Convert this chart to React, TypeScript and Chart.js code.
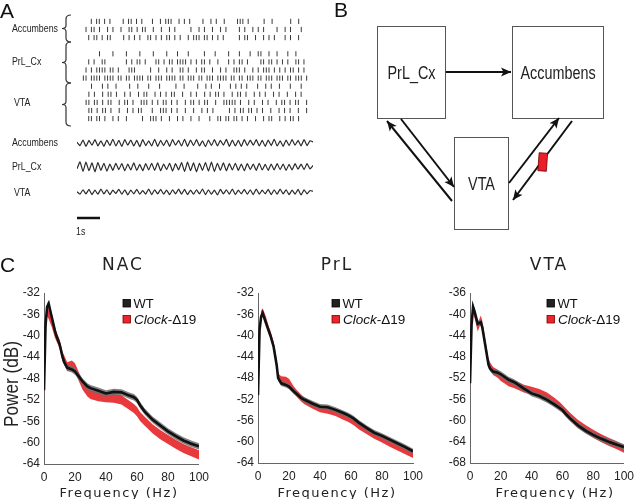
import React, { useEffect, useRef } from "react";
import { Chart, registerables } from "chart.js";
Chart.register(...registerables);

const WIDE = "'DejaVu Sans', Verdana, sans-serif";
const SANS = "'Liberation Sans', Arial, sans-serif";

// ---------- Panel A: spike raster (each '|' = a spike in a time bin) ----------
const RASTER_SECONDS = 10;
const RASTER_ROWS: string[] = [
  "...|.||.|.|....|.||.|.|...|..|.|||..|.|.|....|..|.|..|....|||.|.....|..|......|..|...",
  ".|.||.|..|.|..|..||.|.||..|..|..|.|.....|..|.|..|..|.|....|.|..|.|.|....|..|.|...|..",
  "..|.||.|.||....|.|.|.|..||.|.|.||.|.|..|.|||.||.|.|.|.....|.||..|..|.|.|...|.|..|...",
  "",
  "......|....|....|....|....|....|...|...|.....|...|....|...|...|..||..|..|...|..|....",
  "..|.|..||.......|.|.||.|...||.|.||.||||.|.|.||.|..|...|.|.||.|....||.||.|.|.|..||.|.",
  ".|.|.||||.||.|...|||.....|..|..|.|..||.|..|.||..|..|.|..|||.|..|.|.|||.|.|.|.||.|.|.",
  "||.||||.||||.||.||.||||.||.|||.||||.||.|||.||.|||.||||.||.||.|||.||.|||.|||.||.|||.|",
  "...|...|.|..|....|..|...|...|.....|..|....|..|.|..|...|.|.|.|...|..|.|..|...|...|..",
  "..|.|..|.||.|..|.|..|.||..|.|.|.||..|..|.|..|.|.||.|..|.||.|..|.|.|..|.|..|..|.|..",
  ".||.||.|.||..|.||.|..|||.|.|.||.|.|..|.||.|.||..|..|||||.|..|.|..|.|..|.||.|.||..|",
  "..||.|.||.|..|..|.|.||...|..|||.|.|..|..|..|.|.|.....|.|.||.||.|.|..|..|.|.|..|..|",
  "..||.||.|..|.|..|.....|..|||.|..|..|.|..|..|...|..||.||.||.|.|..|..|.||..|.|.||.|...",
];

// ---------- Panel A: LFP traces (alternating peaks / troughs) ----------
const LFP_ACC = [0.2,-0.7,0.8,-0.9,0.7,-0.6,0.9,-0.8,0.6,-0.9,0.8,-0.7,1.0,-0.8,0.7,-0.9,0.9,-0.6,0.8,-0.8,0.7,-1.0,0.9,-0.7,0.6,-0.8,1.0,-0.9,0.7,-0.7,0.8,-0.9,0.9,-0.6,0.7,-0.8,1.0,-0.9,0.8,-0.7,0.9,-0.8,0.6,-1.0,0.8,-0.7,0.9,-0.8,0.7,-0.6,1.0,-0.9,0.8,-0.8,0.7,-0.9,0.9,-0.7,0.8,-0.6,0.9,-0.8,0.7,-0.9,0.8,-0.7,1.0,-0.8,0.6,-0.9,0.8,-0.7,0.9,-0.6,0.7,-0.8,0.9,-0.7,0.6,0.3];
const LFP_PRL = [-0.5,1.4,-1.2,1.3,-1.0,1.1,-1.3,1.2,-0.9,1.0,-1.1,0.8,-0.9,1.0,-0.7,0.9,-1.0,0.8,-0.8,1.1,-0.9,0.7,-1.0,0.9,-0.8,1.0,-0.9,1.1,-1.0,0.8,-0.7,1.0,-1.1,0.9,-0.8,1.2,-1.2,1.3,-1.0,1.1,-1.3,1.0,-0.9,1.2,-1.1,1.3,-1.2,1.0,-0.9,1.1,-1.0,0.9,-0.8,1.0,-0.9,0.8,-1.0,0.9,-0.7,0.8,-0.9,1.0,-0.8,0.7,-0.9,0.8,-0.8,0.9,-0.7,0.8,-0.9,0.7,-0.8,0.9,-0.6,0.8,-0.7,0.9,-0.5,0.4];
const LFP_VTA = [0.1,-0.6,0.6,-0.5,0.7,-0.7,0.5,-0.6,0.8,-0.5,0.6,-0.7,0.5,-0.4,0.7,-0.6,0.6,-0.8,0.5,-0.5,0.7,-0.6,0.4,-0.6,0.8,-0.7,0.6,-0.5,0.7,-0.6,0.5,-0.7,0.6,-0.5,0.8,-0.6,0.7,-0.7,0.5,-0.6,0.6,-0.5,0.8,-0.7,0.6,-0.6,0.5,-0.8,0.7,-0.5,0.6,-0.6,0.8,-0.7,0.5,-0.5,0.7,-0.6,0.6,-0.7,0.8,-0.6,0.5,-0.5,0.7,-0.7,0.6,-0.6,0.8,-0.5,0.6,-0.7,0.5,-0.6,0.7,-0.8,0.6,-0.5,0.4,0.2];

// ---------- Panel C: power spectra (dB) ----------
const FREQ = [0,1,2,3,5,7,8,10,12,13,15,18,20,23,25,28,30,35,40,45,50,55,58,60,62,65,70,75,80,85,90,95,100];
const NAC_WT = [-50.2,-38,-34.6,-34,-36.5,-39,-40,-41.5,-44,-44.9,-46,-46.3,-46.7,-47.8,-48.6,-49.5,-49.8,-50.3,-50.8,-50.5,-50.6,-51.2,-51.5,-52,-53,-54.2,-55.7,-56.8,-57.9,-58.8,-59.6,-60.2,-60.7];
const NAC_CLK = [-51,-39,-35.5,-36,-37.5,-39.5,-40.2,-41.5,-44,-44.5,-45.8,-45.5,-46,-48,-49.3,-50.5,-51,-51.4,-51.6,-51.7,-52,-53,-53.6,-54.2,-55.1,-56,-57.4,-58.5,-59.4,-60.3,-61.1,-61.7,-62.3];
const PRL_WT = [-51.2,-39,-36.5,-35.8,-37.5,-39.2,-40,-42,-45.5,-48,-49,-49.3,-49.6,-50.5,-51,-51.8,-52.1,-52.8,-53.4,-53.5,-54,-54.6,-55,-55.3,-55.7,-56.4,-57.4,-58.3,-58.9,-59.6,-60.3,-61,-61.8];
const PRL_CLK = [-51.5,-39,-36,-35.5,-37,-39,-39.7,-41.8,-45,-47.8,-48.3,-48.4,-48.8,-50.2,-50.9,-51.8,-52.3,-53.1,-53.8,-54.1,-54.5,-55.2,-55.6,-55.9,-56.3,-57,-57.9,-58.8,-59.5,-60.3,-61,-61.7,-62.4];
const VTA_WT = [-53,-42,-38.6,-39.5,-41.8,-41.5,-42.5,-46,-49.5,-50.2,-50.8,-51,-51.3,-51.9,-52.3,-52.7,-53,-54,-54.9,-55.4,-56.1,-57,-57.6,-58,-58.7,-59.6,-60.9,-61.9,-62.7,-63.4,-64,-64.5,-65];
const VTA_CLK = [-53.5,-42,-39,-40,-42.5,-41,-42,-45.5,-49,-49.8,-50.7,-51.2,-51.8,-52.4,-52.8,-53.1,-53.3,-54,-54.4,-54.8,-55.5,-56.5,-57.2,-57.8,-58.4,-59.3,-60.6,-61.6,-62.5,-63.3,-64,-64.6,-65.3];
const SEM = { nacWt: 0.6, nacClk: 0.85, prlWt: 0.5, prlClk: 0.65, vtaWt: 0.55, vtaClk: 0.75 };
const X_TICKS = { min: 0, max: 100, step: 20 };
const SERIES_NAMES = ["WT", "Clock", "-\u039419"];

function Raster() {
  const ref = useRef<HTMLCanvasElement>(null);
  useEffect(() => {
    const data: { x: number; y: number }[] = [];
    RASTER_ROWS.forEach((row, r) => {
      for (let i = 0; i < row.length; i++) {
        if (row[i] === "|") data.push({ x: ((i + 0.5) * RASTER_SECONDS) / row.length, y: r });
      }
    });
    const chart = new Chart(ref.current!, {
      type: "scatter",
      data: {
        datasets: [
          {
            data,
            pointStyle: "line",
            pointRotation: 90,
            pointRadius: 2.6,
            pointBorderWidth: 1,
            pointBorderColor: "#3a3a3a",
            pointBackgroundColor: "#3a3a3a",
          } as any,
        ],
      },
      options: {
        responsive: false,
        animation: false,
        events: [],
        layout: { padding: 0 },
        plugins: { legend: { display: false }, tooltip: { enabled: false } },
        scales: {
          x: { type: "linear", display: false, min: 0, max: RASTER_SECONDS },
          y: { type: "linear", display: false, min: -0.79, max: 12.79, reverse: true },
        },
      },
    });
    return () => chart.destroy();
  }, []);
  return (
    <canvas ref={ref} width={236} height={120}
      style={{ position: "absolute", left: 77, top: 10, width: 236, height: 120 }} />
  );
}

function Trace({ values, top }: { values: number[]; top: number }) {
  const ref = useRef<HTMLCanvasElement>(null);
  useEffect(() => {
    const chart = new Chart(ref.current!, {
      type: "line",
      data: {
        datasets: [
          {
            data: values.map((v, i) => ({ x: i, y: v })),
            borderColor: "#2a2a2a",
            borderWidth: 1.2,
            pointRadius: 0,
            tension: 0.15,
          },
        ],
      },
      options: {
        responsive: false,
        animation: false,
        events: [],
        layout: { padding: 0 },
        plugins: { legend: { display: false }, tooltip: { enabled: false } },
        scales: {
          x: { type: "linear", display: false, min: 0, max: values.length - 1 },
          y: { type: "linear", display: false, min: -2.7, max: 2.7 },
        },
      },
    });
    return () => chart.destroy();
  }, []);
  return (
    <canvas ref={ref} width={236} height={20}
      style={{ position: "absolute", left: 77, top, width: 236, height: 20 }} />
  );
}

type SpecProps = {
  left: number; width: number; top: number; height: number;
  padTop: number; padRight: number; xHeight: number;
  wt: number[]; clk: number[]; wtSem: number; clkSem: number;
  yMin: number; yMax: number;
};

function Spectrum(p: SpecProps) {
  const ref = useRef<HTMLCanvasElement>(null);
  useEffect(() => {
    const pts = (arr: number[], d: number) => FREQ.map((f, i) => ({ x: f, y: arr[i] + d }));
    const none = "rgba(0,0,0,0)";
    const chart = new Chart(ref.current!, {
      type: "line",
      data: {
        datasets: [
          { data: pts(p.wt, 0), borderColor: "#111", borderWidth: 2.6, pointRadius: 0, fill: false },
          { data: pts(p.wt, p.wtSem), borderWidth: 0, borderColor: none, pointRadius: 0, fill: false },
          { data: pts(p.wt, -p.wtSem), borderWidth: 0, borderColor: none, pointRadius: 0, fill: "-1", backgroundColor: "rgba(110,110,110,0.85)" },
          { data: pts(p.clk, p.clkSem), borderWidth: 0, borderColor: none, pointRadius: 0, fill: false },
          { data: pts(p.clk, -p.clkSem), borderWidth: 0, borderColor: none, pointRadius: 0, fill: "-1", backgroundColor: "rgba(230,35,40,0.9)" },
        ],
      },
      options: {
        responsive: false,
        animation: false,
        events: [],
        layout: { padding: { top: p.padTop, right: p.padRight, left: 0, bottom: 0 } },
        plugins: { legend: { display: false }, tooltip: { enabled: false } },
        scales: {
          x: {
            type: "linear",
            min: X_TICKS.min,
            max: X_TICKS.max,
            ticks: { stepSize: X_TICKS.step, padding: 6, color: "#222", font: { family: SANS, size: 12 }, maxRotation: 0 },
            grid: { display: false, drawTicks: false },
            border: { display: true, color: "#666", width: 1 },
            afterFit: (s: any) => { s.height = p.xHeight; },
          },
          y: {
            type: "linear",
            min: p.yMin,
            max: p.yMax,
            ticks: { stepSize: 4, padding: 4, color: "#222", font: { family: SANS, size: 12 } },
            grid: { display: false, drawTicks: false },
            border: { display: true, color: "#666", width: 1 },
            afterFit: (s: any) => { s.width = 44; },
          },
        },
      },
    });
    return () => chart.destroy();
  }, []);
  return (
    <canvas ref={ref} width={p.width} height={p.height}
      style={{ position: "absolute", left: p.left, top: p.top, width: p.width, height: p.height }} />
  );
}

// horizontally condensed text (no condensed face installed)
function NText({ x, y, size, anchor = "start", sx = 0.8, rot = 0, children }:
  { x: number; y: number; size: number; anchor?: string; sx?: number; rot?: number; children: any }) {
  return (
    <text transform={`translate(${x} ${y}) rotate(${rot}) scale(${sx} 1)`} textAnchor={anchor as any}
      fontFamily={SANS} fontSize={size} fill="#222">{children}</text>
  );
}

function Legend({ x }: { x: number }) {
  return (
    <g>
      <rect x={x} y={299.5} width={7.5} height={7.5} fill="#222" stroke="#000" strokeWidth={0.8} />
      <text x={x + 10.5} y={308} fontFamily={SANS} fontSize={13} fill="#111">{SERIES_NAMES[0]}</text>
      <rect x={x} y={315.5} width={7.5} height={7.5} fill="#e8262b" stroke="#7a0000" strokeWidth={0.8} />
      <text x={x + 11} y={324} fontFamily={SANS} fontSize={13.5} fill="#111">
        <tspan fontStyle="italic">{SERIES_NAMES[1]}</tspan>{SERIES_NAMES[2]}
      </text>
    </g>
  );
}

function Brace({ y1, y2 }: { y1: number; y2: number }) {
  const ym = (y1 + y2) / 2;
  const d = `M71 ${y1} Q66 ${y1} 66 ${y1 + 4} L66 ${ym - 3} Q66 ${ym} 62 ${ym} Q66 ${ym} 66 ${ym + 3} L66 ${y2 - 4} Q66 ${y2} 71 ${y2}`;
  return <path d={d} fill="none" stroke="#333" strokeWidth={1.2} />;
}

export default function App() {
  const titleStyle = { fontFamily: WIDE, fontSize: 17, letterSpacing: "2px" } as any;
  const xTitleStyle = { fontFamily: WIDE, fontSize: 13, letterSpacing: "1.5px" } as any;
  return (
    <div style={{ position: "absolute", left: 0, top: 0, width: 640, height: 499, overflow: "hidden", background: "#fff" }}>
      <Raster />
      <Trace values={LFP_ACC} top={133} />
      <Trace values={LFP_PRL} top={157} />
      <Trace values={LFP_VTA} top={182} />

      <Spectrum left={0} width={215} top={280} height={220} padTop={13} padRight={14} xHeight={36}
        wt={NAC_WT} clk={NAC_CLK} wtSem={SEM.nacWt} clkSem={SEM.nacClk} yMin={-64} yMax={-32} />
      <Spectrum left={214} width={216} top={280} height={220} padTop={13} padRight={17} xHeight={37}
        wt={PRL_WT} clk={PRL_CLK} wtSem={SEM.prlWt} clkSem={SEM.prlClk} yMin={-64} yMax={-32} />
      <Spectrum left={426} width={214} top={280} height={220} padTop={13} padRight={13} xHeight={37}
        wt={VTA_WT} clk={VTA_CLK} wtSem={SEM.vtaWt} clkSem={SEM.vtaClk} yMin={-68} yMax={-36} />

      <svg width={640} height={499} style={{ position: "absolute", left: 0, top: 0, pointerEvents: "none" }}>
        <defs>
          <marker id="ah" viewBox="0 0 10 10" refX={10} refY={5} markerWidth={10} markerHeight={10}
            markerUnits="userSpaceOnUse" orient="auto">
            <path d="M0,0.5 L10,5 L0,9.5 L2.5,5 Z" fill="#111" />
          </marker>
        </defs>

        {/* panel letters */}
        <text x={0} y={18} fontFamily={SANS} fontSize={21} fill="#111">A</text>
        <text x={334} y={17} fontFamily={SANS} fontSize={21} fill="#111">B</text>
        <text x={0} y={272} fontFamily={SANS} fontSize={21} fill="#111">C</text>

        {/* Panel A labels */}
        <NText x={12} y={32} size={11}>Accumbens</NText>
        <NText x={12} y={65} size={11}>PrL_Cx</NText>
        <NText x={14} y={105.5} size={11}>VTA</NText>
        <Brace y1={15} y2={42} />
        <Brace y1={42} y2={83} />
        <Brace y1={83} y2={126} />
        <NText x={12} y={146} size={11}>Accumbens</NText>
        <NText x={12} y={170} size={11}>PrL_Cx</NText>
        <NText x={14} y={195.5} size={11}>VTA</NText>
        <line x1={77} y1={218} x2={100} y2={218} stroke="#111" strokeWidth={2.5} />
        <NText x={76} y={235} size={11}>1s</NText>

        {/* Panel B diagram */}
        <rect x={377.5} y={26.5} width={68} height={92} fill="#fff" stroke="#555" strokeWidth={1} />
        <rect x={512.5} y={26.5} width={91} height={92} fill="#fff" stroke="#555" strokeWidth={1} />
        <rect x={454.5} y={137.5} width={54} height={92} fill="#fff" stroke="#555" strokeWidth={1} />
        <NText x={411.5} y={78.5} size={18} anchor="middle">PrL_Cx</NText>
        <NText x={558} y={78.5} size={18} anchor="middle">Accumbens</NText>
        <NText x={481.5} y={189.5} size={18} anchor="middle">VTA</NText>
        <line x1={446} y1={72} x2={511} y2={72} stroke="#111" strokeWidth={2} markerEnd="url(#ah)" />
        <line x1={452} y1={201} x2={387} y2={121} stroke="#111" strokeWidth={2} markerEnd="url(#ah)" />
        <line x1={401} y1={119} x2={454} y2={187} stroke="#111" strokeWidth={2} markerEnd="url(#ah)" />
        <line x1={509} y1={183} x2={559} y2={118} stroke="#111" strokeWidth={2} markerEnd="url(#ah)" />
        <line x1={572} y1={121} x2={513} y2={200} stroke="#111" strokeWidth={2} markerEnd="url(#ah)" />
        <rect x={538.5} y={153} width={8.5} height={18} fill="#e8202a" stroke="#7a0000" strokeWidth={0.8}
          transform="rotate(4 542.7 162)" />

        {/* Panel C titles and legends */}
        <text x={123} y={270} textAnchor="middle" style={titleStyle} fill="#222">NAC</text>
        <text x={337} y={270} textAnchor="middle" style={titleStyle} fill="#222">PrL</text>
        <text x={549} y={270} textAnchor="middle" style={titleStyle} fill="#222">VTA</text>
        <Legend x={123} />
        <Legend x={332} />
        <Legend x={547} />
        <text x={119} y={497} textAnchor="middle" style={xTitleStyle} fill="#222">Frequency (Hz)</text>
        <text x={337} y={497} textAnchor="middle" style={xTitleStyle} fill="#222">Frequency (Hz)</text>
        <text x={555} y={497} textAnchor="middle" style={xTitleStyle} fill="#222">Frequency (Hz)</text>
        <NText x={18} y={384} size={21} anchor="middle" sx={0.82} rot={-90}>Power (dB)</NText>
      </svg>
    </div>
  );
}
